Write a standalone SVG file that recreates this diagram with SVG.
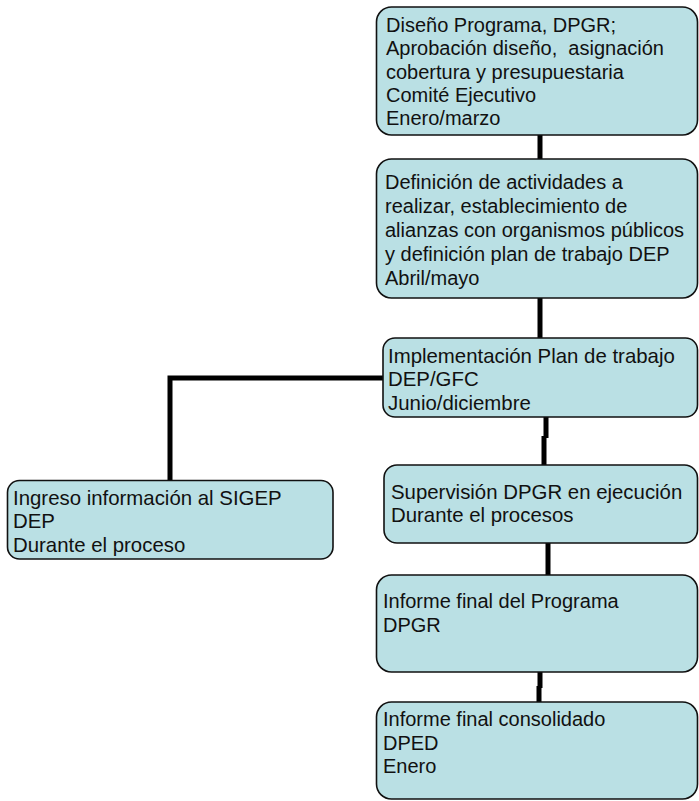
<svg xmlns="http://www.w3.org/2000/svg" width="699" height="801" viewBox="0 0 699 801">
<style>
.box{fill:#bae0e4;stroke:#111;stroke-width:1.6}
.t{font-family:"Liberation Sans",Arial,sans-serif;font-size:20px;fill:#111}
.n{font-size:20.4px}
.c{fill:none;stroke:#000;stroke-width:5}
</style>
<rect width="699" height="801" fill="#fff"/>
<g id="connectors">
<path class="c" d="M540,135 V159"/>
<path class="c" d="M540,298 V338"/>
<path class="c" d="M383,378 H170 V481"/>
<path class="c" d="M546,417 V438 M544,436 V465"/>
<path class="c" d="M548,543 V575"/>
<path class="c" d="M540,672 V688 M539,686 V702"/>
</g>
<g id="n1">
<rect class="box" x="376.5" y="7" width="321" height="128" rx="15"/>
<text class="t" x="386" y="32">Diseño Programa, DPGR;</text>
<text class="t" x="386" y="55" xml:space="preserve">Aprobación diseño,  asignación</text>
<text class="t" x="386" y="79">cobertura y presupuestaria</text>
<text class="t" x="386" y="102">Comité Ejecutivo</text>
<text class="t" x="386" y="125">Enero/marzo</text>
</g>
<g id="n2">
<rect class="box" x="376.5" y="159" width="321" height="139" rx="15"/>
<text class="t" x="385" y="189">Definición de actividades a</text>
<text class="t" x="385" y="213">realizar, establecimiento de</text>
<text class="t" x="385" y="237">alianzas con organismos públicos</text>
<text class="t" x="385" y="261">y definición plan de trabajo DEP</text>
<text class="t" x="385" y="285">Abril/mayo</text>
</g>
<g id="n3">
<rect class="box" x="383" y="338" width="314.5" height="79" rx="12"/>
<text class="t n" x="388" y="363">Implementación Plan de trabajo</text>
<text class="t n" x="388" y="386">DEP/GFC</text>
<text class="t n" x="388" y="410">Junio/diciembre</text>
</g>
<g id="n4">
<rect class="box" x="7.5" y="480.5" width="325.5" height="78.5" rx="12"/>
<text class="t n" x="13" y="505">Ingreso información al SIGEP</text>
<text class="t n" x="13" y="528">DEP</text>
<text class="t n" x="13" y="552">Durante el proceso</text>
</g>
<g id="n5">
<rect class="box" x="384" y="465" width="313.5" height="78" rx="13"/>
<text class="t n" x="391" y="499">Supervisión DPGR en ejecución</text>
<text class="t n" x="391" y="522">Durante el procesos</text>
</g>
<g id="n6">
<rect class="box" x="376.5" y="575" width="321" height="97" rx="15"/>
<text class="t" x="383" y="608">Informe final del Programa</text>
<text class="t" x="383" y="632">DPGR</text>
</g>
<g id="n7">
<rect class="box" x="376.5" y="702" width="321" height="97" rx="15"/>
<text class="t" x="383" y="726">Informe final consolidado</text>
<text class="t" x="383" y="750">DPED</text>
<text class="t" x="383" y="773">Enero</text>
</g>
</svg>
